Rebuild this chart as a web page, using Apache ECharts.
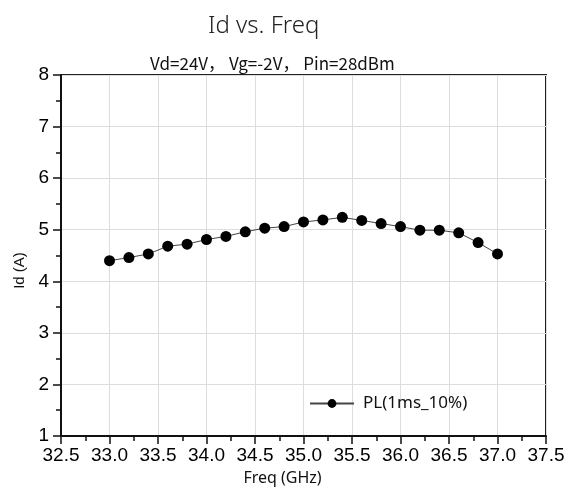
<!DOCTYPE html>
<html><head><meta charset="utf-8">
<script src="https://cdn.jsdelivr.net/npm/echarts@6/dist/echarts.min.js"></script>
<style>html,body{margin:0;padding:0;background:#fff}#c{width:569px;height:493px}</style>
</head><body><div id="c"></div>
<script>
const freq = [33.0,33.2,33.4,33.6,33.8,34.0,34.2,34.4,34.6,34.8,35.0,35.2,35.4,35.6,35.8,36.0,36.2,36.4,36.6,36.8,37.0];
const idA = [4.40,4.46,4.53,4.68,4.72,4.81,4.87,4.96,5.03,5.06,5.15,5.19,5.24,5.18,5.12,5.06,4.99,4.99,4.94,4.75,4.53];
const seriesName = 'PL(1ms_10%)';
const titleText = 'Id vs. Freq';
const subText = 'Vd=24V， Vg=-2V， Pin=28dBm';

const chart = echarts.init(document.getElementById('c'));
const tickFont = {fontFamily:'Liberation Sans, Arial', fontSize:19, color:'#000'};
chart.setOption({
  animation:false,
  title:[
    {text:titleText, left:203, top:9, textStyle:{fontFamily:'Noto Sans, sans-serif', fontWeight:300, fontSize:24, color:'#222'}},
    {text:subText, left:145, top:50, textStyle:{fontFamily:'Noto Sans CJK SC, Noto Sans, sans-serif', fontWeight:'normal', fontSize:17, color:'#111'}}
  ],
  grid:{left:61, right:23, top:75, bottom:57, show:true, borderColor:'#222', borderWidth:2, backgroundColor:'#fff'},
  legend:{show:true, left:304, top:390, itemWidth:44, itemHeight:11, itemGap:6,
    textStyle:{fontFamily:'Noto Sans, sans-serif', fontSize:17, color:'#111', padding:[0,0,0,4]},
    data:[{name:seriesName}]},
  xAxis:{type:'value', min:32.5, max:37.5, interval:0.5, name:'Freq (GHz)', nameLocation:'middle', nameGap:34,
    nameTextStyle:{fontFamily:'Noto Sans, sans-serif', fontSize:16, color:'#111', padding:[0,42,0,0]},
    axisLine:{show:true, onZero:false, lineStyle:{color:'#111', width:2}},
    axisTick:{show:true, length:8, lineStyle:{color:'#111', width:1.5}},
    minorTick:{show:true, splitNumber:2, length:5, lineStyle:{color:'#111', width:1.5}},
    axisLabel:Object.assign({formatter:v=>v.toFixed(1), margin:10}, tickFont),
    splitLine:{show:true, lineStyle:{color:'#ddd', width:1}}},
  yAxis:{type:'value', min:1, max:8, interval:1, name:'Id (A)', nameLocation:'middle', nameGap:33,
    nameTextStyle:{fontFamily:'Liberation Sans, Arial', fontSize:15, color:'#111', padding:[0,30,0,0]},
    axisLine:{show:true, onZero:false, lineStyle:{color:'#111', width:2}},
    axisTick:{show:true, length:8, lineStyle:{color:'#111', width:1.5}},
    minorTick:{show:true, splitNumber:2, length:5, lineStyle:{color:'#111', width:1.5}},
    axisLabel:Object.assign({margin:12}, tickFont),
    splitLine:{show:true, lineStyle:{color:'#ddd', width:1}}},
  series:[{name:seriesName, type:'line', data:freq.map((f,i)=>[f, idA[i]]),
    symbol:'circle', symbolSize:11, itemStyle:{color:'#000'},
    lineStyle:{color:'#444', width:1}}]
});
</script></body></html>
